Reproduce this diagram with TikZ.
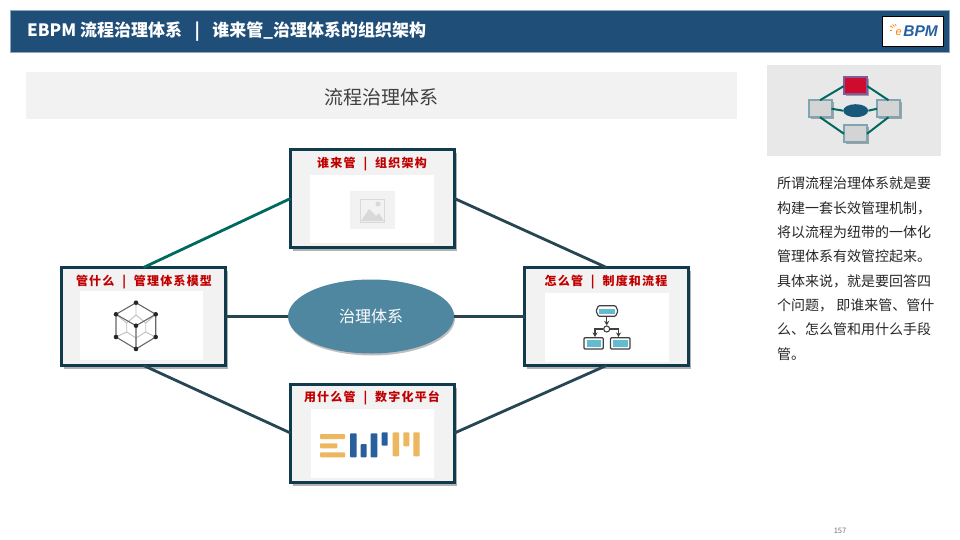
\documentclass[tikz,border=0pt]{standalone}
\usepackage{fontspec}
\usepackage{xcolor}
\setmainfont{Noto Sans CJK SC}
\newfontfamily\logofont{Liberation Sans}
\newfontfamily\labelfont[LetterSpace=10]{Noto Sans CJK SC}
\usetikzlibrary{arrows.meta,shadows,shapes.geometric}
\definecolor{headblue}{HTML}{1F4E79}
\definecolor{boxline}{HTML}{0F3B4C}
\definecolor{linkdark}{HTML}{264653}
\definecolor{linkteal}{HTML}{00695F}
\definecolor{hubblue}{HTML}{4F86A0}
\definecolor{labelred}{HTML}{C00000}
\definecolor{barorange}{HTML}{EDB75F}
\definecolor{barblue}{HTML}{28609E}
\definecolor{flowcyan}{HTML}{62BCD0}
\definecolor{minired}{HTML}{D00C2E}
\definecolor{miniline}{HTML}{7FA5B5}
\newcommand{\fs}[1]{\fontsize{#1}{#1}\selectfont}

\begin{document}
\begin{tikzpicture}[
  x=1pt, y=-1pt,
  >=Stealth,
  areabox/.style={draw=boxline, line width=3pt, fill=black!5, minimum width=164pt, minimum height=98pt, outer sep=0pt, inner sep=0pt, drop shadow={shadow xshift=2.5pt, shadow yshift=-3.5pt, opacity=.3, fill=black}},
  arealabel/.style={font=\labelfont\fs{12}\bfseries, text=labelred, inner sep=0pt},
  whitepane/.style={fill=white, draw=none},
  link/.style={draw=linkdark, line width=2.8pt},
  tealink/.style={draw=linkteal, line width=2.8pt},
  hub/.style={ellipse, fill=hubblue, minimum width=166pt, minimum height=74pt, inner sep=0pt, text=white, font=\fs{16}, drop shadow={shadow xshift=1pt, shadow yshift=-2pt, opacity=.25, fill=black}},
  minibox/.style={draw=miniline, line width=2pt, fill=black!17, minimum width=23pt, minimum height=17pt, inner sep=0pt, outer sep=0pt, drop shadow={shadow xshift=2pt, shadow yshift=-2pt, opacity=.3, fill=black}},
  minilink/.style={draw=linkteal, line width=2pt},
  cubeouter/.style={draw=black!60, line width=1.1pt},
  cubeinner/.style={draw=black!25, line width=.9pt},
  cubedot/.style={circle, fill=black!85, inner sep=0pt, minimum size=4.6pt},
  flowshape/.style={draw=black!75, line width=1.2pt, fill=white, rounded corners=1pt},
  flowarrow/.style={->, draw=black!75, line width=1.1pt, >={Stealth[length=4.5pt,width=5pt]}},
  orangebar/.style={fill=barorange, rounded corners=.8pt},
  bluebar/.style={fill=barblue, rounded corners=.8pt}
]

\useasboundingbox (0,0) rectangle (960,540);

% Kopfzeile
\draw[draw=headblue!50!white, fill=headblue, line width=.5pt] (10.5,10) rectangle (949.5,52);
\node[anchor=west, text=white, font=\fs{17}\bfseries, inner sep=0pt] (headtitle) at (27,32) {EBPM 流程治理体系\hspace{12.5pt}|\hspace{12.5pt}谁来管\_治理体系的组织架构};

% Logo
\node[draw=black, fill=white, line width=.8pt, minimum width=61pt, minimum height=30pt, inner sep=0pt] (logobox) at (913,31) {};
\node[anchor=east, text=barblue, font=\logofont\fs{15.5}\bfseries\itshape, inner sep=0pt] (logotext) at (938,31.5) {BPM};
\node[anchor=east, text=orange, font=\logofont\fs{11}\itshape, inner sep=0pt] (logoe) at (902,33) {e};
\foreach \a/\b/\c/\d in {890/26/893/27.5, 892.5/24.5/894.5/26.5, 895.5/24/896/26, 889.5/30/892/30}
  \draw[orange, line width=.7pt] (\a,\b) -- (\c,\d);

% Titelband
\fill[black!5] (26,72) rectangle (737,119);
\node[text=black!75, font=\fs{19}, inner sep=0pt] (bandtitle) at (381,97) {流程治理体系};

% Vier Felder und Mitte
\node[hub] (hubnode) at (371,316.5) {治理体系};
\node[areabox] (whobox) at (372.5,198.5) {};
\node[areabox] (whatbox) at (143.5,316.5) {};
\node[areabox] (howbox) at (606.5,316.5) {};
\node[areabox] (toolbox) at (372.5,433) {};

\draw[tealink] (whobox.west) -- (whatbox.north);
\draw[link] (whobox.east) -- (howbox.north);
\draw[link] (whatbox.south) -- (toolbox.west);
\draw[link] (howbox.south) -- (toolbox.east);
\draw[link] (whatbox.east) -- (hubnode.west);
\draw[link] (hubnode.east) -- (howbox.west);

\node[arealabel] (wholabel) at (372,164) {谁来管 ~|~ 组织架构};
\node[arealabel] (whatlabel) at (144,282) {管什么 ~|~ 管理体系模型};
\node[arealabel] (howlabel) at (606,282) {怎么管 ~|~ 制度和流程};
\node[arealabel] (toollabel) at (372,398) {用什么管 ~|~ 数字化平台};

\fill[whitepane] (310,175) rectangle (434,243);
\fill[whitepane] (80,291) rectangle (203,360);
\fill[whitepane] (545,293) rectangle (669,362);
\fill[whitepane] (311,409) rectangle (434,478);

% Platzhalter oben
\fill[black!5] (350,191) rectangle (395,229);
\draw[black!15, line width=.8pt] (360,199) rectangle (384,222);
\fill[black!15] (361,221) -- (369,209) -- (376,216) -- (379,213) -- (384,221) -- cycle;
\fill[black!15] (378,204) circle (2.5);

% Wuerfel
\draw[cubeinner] (136,315) -- (126.7,323) -- (126.7,332) -- (136,338) -- (145.7,332) -- (145.7,323) -- cycle;
\draw[cubeinner] (136,302.7) -- (136,315) (116,314.3) -- (126.7,323) (155.7,314.3) -- (145.7,323)
                 (116,337) -- (126.7,332) (155.7,337) -- (145.7,332) (136,349) -- (136,338);
\draw[cubeouter] (136,302.7) -- (155.7,314.3) -- (155.7,337) -- (136,349) -- (116,337) -- (116,314.3) -- cycle;
\draw[cubeouter] (116,314.3) -- (136,325.7) -- (155.7,314.3) (136,325.7) -- (136,349);
\foreach \x/\y in {136/302.7, 116/314.3, 155.7/314.3, 136/325.7, 116/337, 155.7/337, 136/349}
  \node[cubedot] at (\x,\y) {};

% Ablaufsymbol
\draw[flowshape] (596,311) -- (598.5,305.7) -- (615.5,305.7) -- (618,311) -- (615.5,316.3) -- (598.5,316.3) -- cycle;
\fill[flowcyan] (599,308.5) rectangle (615,313.5);
\draw[flowshape] (584,337.7) rectangle (603.3,349);
\fill[flowcyan] (586.5,340) rectangle (601,346.5);
\draw[flowshape] (610.5,337.7) rectangle (630,349);
\fill[flowcyan] (613,340) rectangle (627.5,346.5);
\node[circle, draw=black!75, line width=1.1pt, fill=white, minimum size=6pt, inner sep=0pt] (flowdot) at (606.7,329) {};
\draw[flowarrow] (606.7,316.3) -- (flowdot.north);
\draw[flowarrow] (flowdot.west) -- (595,329) -- (595,337);
\draw[flowarrow] (flowdot.east) -- (618.5,329) -- (618.5,337);

% Balkensymbol
\foreach \a/\b/\c/\d in {320/434/345/439, 320/443.3/337.3/448.3, 320/452.3/345/457.3,
                         392.7/432.3/399/456.3, 403.3/432.3/409.3/446.3, 413.3/432.3/419.7/456.3}
  \fill[orangebar] (\a,\b) rectangle (\c,\d);
\foreach \a/\b/\c/\d in {350/433.3/356.7/457.3, 360.7/444/366.7/457.3, 370.7/433.3/377.3/457.3, 381.7/432.3/387.7/445.7}
  \fill[bluebar] (\a,\b) rectangle (\c,\d);

% Vorschaubild rechts
\fill[black!9] (767,65) rectangle (941,156);
\node[minibox, fill=minired, draw=violet!45!miniline] (miniTop) at (855.5,86) {};
\node[minibox] (miniLeft) at (820,108.7) {};
\node[minibox] (miniRight) at (888.5,108.7) {};
\node[minibox] (miniBottom) at (855.5,133.8) {};
\node[ellipse, fill=headblue!80!teal, minimum width=25pt, minimum height=13pt, inner sep=0pt] (miniHub) at (855.7,110.7) {};
\draw[minilink] (miniTop.west) -- (miniLeft.north);
\draw[minilink] (miniTop.east) -- (miniRight.north);
\draw[minilink] (miniLeft.south) -- (miniBottom.west);
\draw[minilink] (miniRight.south) -- (miniBottom.east);
\draw[minilink] (miniLeft.east) -- (miniHub.west);
\draw[minilink] (miniHub.east) -- (miniRight.west);

% Erklaerung
\node[anchor=north west, align=left, inner sep=0pt, text=black!85, font=\fontsize{14}{24.3}\selectfont] (sidetext) at (777,177)
  {所谓流程治理体系就是要\\构建一套长效管理机制，\\将以流程为纽带的一体化\\管理体系有效管控起来。\\具体来说，就是要回答四\\个问题， 即谁来管、管什\\么、怎么管和用什么手段\\管。};

\node[text=black!55, font=\fs{7.5}, inner sep=0pt] (pagenum) at (840,531) {157};

\end{tikzpicture}
\end{document}
